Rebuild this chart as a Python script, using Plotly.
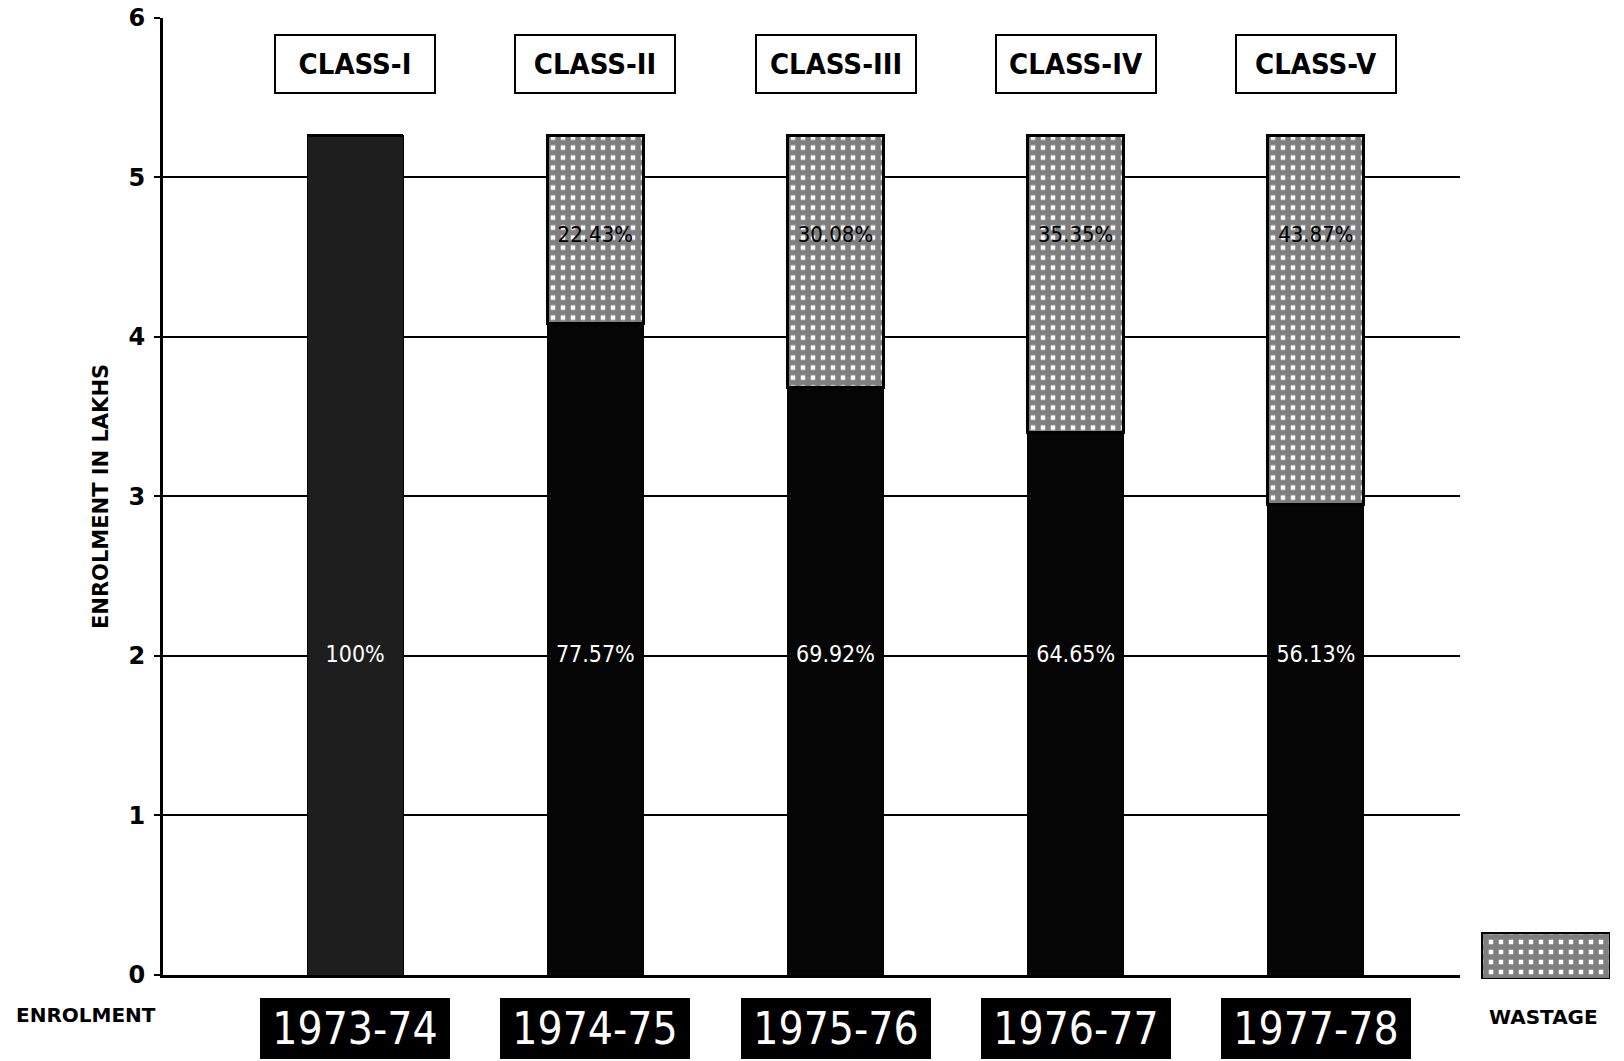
import plotly.graph_objects as go

W, H = 1624, 1061

classes = ["CLASS-I", "CLASS-II", "CLASS-III", "CLASS-IV", "CLASS-V"]
years = ["1973-74", "1974-75", "1975-76", "1976-77", "1977-78"]
enrolment = [5.26, 4.08, 3.68, 3.40, 2.95]
wastage = [0.0, 1.18, 1.58, 1.86, 2.31]
enrol_pct = ["100%", "77.57%", "69.92%", "64.65%", "56.13%"]
waste_pct = ["", "22.43%", "30.08%", "35.35%", "43.87%"]
yticks = [0, 1, 2, 3, 4, 5, 6]

x = list(range(len(classes)))
FONT = "Liberation Sans Narrow, DejaVu Sans Condensed, Arial Narrow, sans-serif"
BOLD = "DejaVu Sans, Verdana, sans-serif"
PATTERN = dict(shape="+", fgcolor="black", bgcolor="white", size=10, solidity=0.8)


def px(v):
    return v / W


def py(v):
    return 1 - v / H


fig = go.Figure()

fig.add_trace(
    go.Bar(
        x=x,
        y=enrolment,
        width=0.40,
        name="ENROLMENT",
        marker=dict(color=["#1e1e1e", "#050505", "#050505", "#050505", "#050505"],
                    line=dict(color="black", width=1)),
        showlegend=False,
    )
)
fig.add_trace(
    go.Bar(
        x=x,
        y=wastage,
        width=0.40,
        name="WASTAGE",
        marker=dict(color="white", line=dict(color="black", width=3), pattern=PATTERN),
        showlegend=False,
    )
)

# percentage labels
fig.add_trace(
    go.Scatter(
        x=x,
        y=[2.0] * len(x),
        mode="text",
        text=enrol_pct,
        textfont=dict(color="white", size=23, family=FONT),
        showlegend=False,
        hoverinfo="skip",
    )
)
fig.add_trace(
    go.Scatter(
        x=x,
        y=[4.63] * len(x),
        mode="text",
        text=waste_pct,
        textfont=dict(color="black", size=22, family=FONT),
        showlegend=False,
        hoverinfo="skip",
    )
)

# legend swatch for wastage
fig.add_trace(
    go.Bar(
        x=[0.5],
        y=[1],
        width=1,
        xaxis="x2",
        yaxis="y2",
        marker=dict(color="white", line=dict(color="black", width=3), pattern=PATTERN),
        showlegend=False,
        hoverinfo="skip",
    )
)

annotations = []
for i, c in enumerate(classes):
    annotations.append(
        dict(x=i, y=5.71, xref="x", yref="y", text=c, showarrow=False,
             font=dict(family=FONT, size=29, color="black", weight="bold"),
             bgcolor="white", bordercolor="black", borderwidth=2, borderpad=11,
             width=136)
    )
for i, yr in enumerate(years):
    annotations.append(
        dict(x=i, y=py(1028), xref="x", yref="paper", text=yr, showarrow=False,
             xanchor="center", yanchor="middle",
             font=dict(family=FONT, size=44, color="white"),
             bgcolor="black", bordercolor="black", borderwidth=2, borderpad=3,
             width=180)
    )
annotations += [
    dict(x=px(101), y=py(497), xref="paper", yref="paper", text="<b>ENROLMENT IN LAKHS</b>",
         xanchor="center", yanchor="middle",
         textangle=-90, showarrow=False, font=dict(family=BOLD, size=21, color="black")),
    dict(x=px(14), y=py(1015), xref="paper", yref="paper", text="<b>ENROLMENT</b>",
         xanchor="left", yanchor="middle", showarrow=False,
         font=dict(family=BOLD, size=20, color="black")),
    dict(x=px(1543), y=py(1017), xref="paper", yref="paper", text="<b>WASTAGE</b>",
         xanchor="center", yanchor="middle", showarrow=False,
         font=dict(family=BOLD, size=20, color="black")),
]

fig.update_layout(
    width=W,
    height=H,
    barmode="stack",
    plot_bgcolor="white",
    paper_bgcolor="white",
    margin=dict(l=0, r=0, t=0, b=0, autoexpand=False),
    xaxis=dict(
        domain=[px(163), px(1460)],
        range=[-0.8, 4.6],
        automargin=False,
        showticklabels=False,
        showgrid=False,
        zeroline=False,
        showline=True,
        linecolor="black",
        linewidth=3,
        ticks="",
    ),
    yaxis=dict(
        domain=[py(975), py(17.6)],
        range=[0, 6],
        automargin=False,
        tickvals=yticks,
        ticktext=[str(t) for t in yticks],
        tickfont=dict(family=BOLD, size=24, color="black", weight="bold"),
        ticklabelstandoff=4,
        ticks="outside",
        ticklen=6,
        tickwidth=2,
        tickcolor="black",
        showgrid=True,
        gridcolor="black",
        gridwidth=2,
        zeroline=False,
        showline=True,
        linecolor="black",
        linewidth=3,
    ),
    xaxis2=dict(domain=[px(1481), px(1610)], range=[0, 1], visible=False, anchor="y2", automargin=False),
    yaxis2=dict(domain=[py(979), py(932)], range=[0, 1], visible=False, anchor="x2", automargin=False),
    annotations=annotations,
)

fig.write_html("out.html", config={"displayModeBar": False},
               post_script="document.body.style.margin='0';")
